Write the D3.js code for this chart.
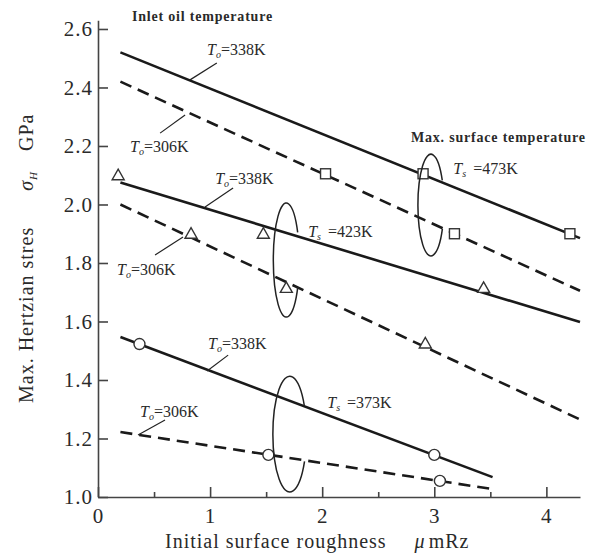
<!DOCTYPE html>
<html>
<head>
<meta charset="utf-8">
<script src="https://cdn.jsdelivr.net/npm/d3@7"></script>
<style>
  body { margin: 0; background: #fff; }
  text { font-family: "Liberation Serif", "DejaVu Serif", serif; fill: #2a2a2a; }
  .axis path, .axis line { stroke: #444; stroke-width: 1.6; }
  .axis text { font-size: 21px; letter-spacing: 1px; }
</style>
</head>
<body>
<div class="chart"></div>
<script>
var width = 600,
    height = 555

// x ticks and y ticks
var xMajor = [0, 1, 2, 3, 4]
var xMinor = [0.5, 1.5, 2.5, 3.5]
var yTicks = [1.0, 1.2, 1.4, 1.6, 1.8, 2.0, 2.2, 2.4, 2.6]

// fitted lines, endpoints [roughness, stress]
var line473_338 = [[0.2, 2.52], [4.3, 1.885]]
var line473_306 = [[0.2, 2.42], [4.3, 1.705]]
var line423_338 = [[0.2, 2.075], [4.3, 1.598]]
var line423_306 = [[0.2, 2.0], [4.3, 1.265]]
var line373_338 = [[0.2, 1.547], [3.52, 1.068]]
var line373_306 = [[0.2, 1.222], [3.52, 1.027]]

// measured points
var squares = [[2.03, 2.105], [2.9, 2.105], [3.18, 1.90], [4.21, 1.90]]
var triangles = [[0.18, 2.10], [0.83, 1.90], [1.475, 1.90], [1.68, 1.715], [2.92, 1.525], [3.44, 1.715]]
var circles = [[0.37, 1.523], [1.52, 1.144], [3.0, 1.144], [3.05, 1.055]]

// To labels: [x, y] text position, leader [x1, y1, x2, y2], value
var toLabels = [
  {pos: [0.973, 2.511], lead: [1.06, 2.484, 0.821, 2.426], val: "338K"},
  {pos: [0.286, 2.179], lead: [0.554, 2.244, 0.777, 2.306], val: "306K"},
  {pos: [1.045, 2.070], lead: [1.205, 2.056, 0.955, 1.991], val: "338K"},
  {pos: [0.170, 1.759], lead: [0.509, 1.827, 0.759, 1.889], val: "306K"},
  {pos: [0.982, 1.506], lead: [1.161, 1.485, 0.973, 1.431], val: "338K"},
  {pos: [0.375, 1.274], lead: [0.598, 1.263, 0.357, 1.212], val: "306K"}
]

// Ts groups: loop centre/radii in data units, label position
var tsGroups = [
  {cx: 2.97, cy: 1.998, rx: 0.116, ry: 0.174, pos: [3.17, 2.104], val: "473K"},
  {cx: 1.68, cy: 1.81, rx: 0.116, ry: 0.195, pos: [1.875, 1.889], val: "423K"},
  {cx: 1.71, cy: 1.215, rx: 0.15, ry: 0.198, pos: [2.045, 1.304], val: "373K"}
]

var svg = d3.select(".chart")
  .append("svg")
  .attr("width", width)
  .attr("height", height)

var x = d3.scaleLinear()
  .domain([0, 4.3])
  .range([98, 580])

var y = d3.scaleLinear()
  .domain([1, 2.63])
  .range([497, 20.2])

// axes
svg.append("g")
  .attr("class", "axis")
  .attr("transform", "translate(" + x(0) + ",0)")
  .call(d3.axisLeft(y).tickValues(yTicks).tickFormat(d3.format(".1f"))
    .tickSizeInner(-10).tickSizeOuter(0).tickPadding(5))

var xAxis = svg.append("g")
  .attr("class", "axis")
  .attr("transform", "translate(0," + y(1) + ")")
  .call(d3.axisBottom(x).tickValues(xMajor).tickFormat(d3.format("d"))
    .tickSizeInner(-10).tickSizeOuter(0).tickPadding(6))
xAxis.selectAll("text").attr("dy", "0.95em")

svg.append("g")
  .attr("class", "axis")
  .attr("transform", "translate(0," + y(1) + ")")
  .call(d3.axisBottom(x).tickValues(xMinor).tickFormat("")
    .tickSizeInner(-5).tickSizeOuter(0))
  .select(".domain").remove()

svg.selectAll(".axis .domain").attr("stroke", "#444")

// lines
var line = d3.line()
  .x(function(d) { return x(d[0]); })
  .y(function(d) { return y(d[1]); })

var solid = [line473_338, line423_338, line373_338]
var dashed = [line473_306, line423_306, line373_306]

svg.append("g").selectAll("path")
  .data(solid).enter().append("path")
  .attr("d", line)
  .attr("fill", "none").attr("stroke", "#1a1a1a").attr("stroke-width", 2.6)

svg.append("g").selectAll("path")
  .data(dashed).enter().append("path")
  .attr("d", line)
  .attr("fill", "none").attr("stroke", "#1a1a1a").attr("stroke-width", 2.6)
  .attr("stroke-dasharray", "12,7")

// markers
svg.append("g").selectAll("rect")
  .data(squares).enter().append("rect")
  .attr("x", function(d) { return x(d[0]) - 5; })
  .attr("y", function(d) { return y(d[1]) - 5; })
  .attr("width", 10).attr("height", 10)
  .attr("fill", "#fff").attr("stroke", "#333").attr("stroke-width", 1.4)

svg.append("g").selectAll("path")
  .data(triangles).enter().append("path")
  .attr("d", function(d) {
    var cx = x(d[0]), cy = y(d[1])
    return "M" + (cx - 6) + "," + (cy + 4.5) + "L" + (cx + 6) + "," + (cy + 4.5) + "L" + cx + "," + (cy - 6) + "Z"
  })
  .attr("fill", "#fff").attr("stroke", "#333").attr("stroke-width", 1.4)

svg.append("g").selectAll("circle")
  .data(circles).enter().append("circle")
  .attr("cx", function(d) { return x(d[0]); })
  .attr("cy", function(d) { return y(d[1]); })
  .attr("r", 5.5)
  .attr("fill", "#fff").attr("stroke", "#333").attr("stroke-width", 1.4)

// loops around the groups, open on the right side
function loopPath(g) {
  var cx = x(g.cx), cy = y(g.cy)
  var rx = x(g.rx) - x(0), ry = y(0) - y(g.ry)
  var a0 = 28 * Math.PI / 180, a1 = -29 * Math.PI / 180
  return "M" + (cx + rx * Math.cos(a0)) + "," + (cy + ry * Math.sin(a0)) +
    "A" + rx + "," + ry + " 0 1 1 " + (cx + rx * Math.cos(a1)) + "," + (cy + ry * Math.sin(a1))
}

svg.append("g").selectAll("path")
  .data(tsGroups).enter().append("path")
  .attr("d", loopPath)
  .attr("fill", "none").attr("stroke", "#222").attr("stroke-width", 1.5)

// leaders
svg.append("g").selectAll("line")
  .data(toLabels).enter().append("line")
  .attr("x1", function(d) { return x(d.lead[0]); })
  .attr("y1", function(d) { return y(d.lead[1]); })
  .attr("x2", function(d) { return x(d.lead[2]); })
  .attr("y2", function(d) { return y(d.lead[3]); })
  .attr("stroke", "#222").attr("stroke-width", 1.2)

// To labels
var toText = svg.append("g").selectAll("text")
  .data(toLabels).enter().append("text")
  .attr("x", function(d) { return x(d.pos[0]); })
  .attr("y", function(d) { return y(d.pos[1]); })
  .attr("font-size", 16)
toText.append("tspan").attr("font-style", "italic").text("T")
toText.append("tspan").attr("font-style", "italic").attr("font-size", 10).attr("dy", 3).text("o")
toText.append("tspan").attr("dy", -3).text(function(d) { return "=" + d.val; })

// Ts labels
var tsText = svg.append("g").selectAll("text")
  .data(tsGroups).enter().append("text")
  .attr("x", function(d) { return x(d.pos[0]); })
  .attr("y", function(d) { return y(d.pos[1]); })
  .attr("font-size", 16)
tsText.append("tspan").attr("font-style", "italic").text("T")
tsText.append("tspan").attr("font-style", "italic").attr("font-size", 10).attr("dy", 3).text("s")
tsText.append("tspan").attr("dy", -3).attr("dx", 3).text(function(d) { return " =" + d.val; })

// headings
svg.append("text")
  .attr("x", 132).attr("y", 21)
  .attr("font-size", 14).attr("font-weight", "bold").attr("letter-spacing", 0.8)
  .text("Inlet oil temperature")

svg.append("text")
  .attr("x", 411).attr("y", 142)
  .attr("font-size", 14).attr("font-weight", "bold").attr("letter-spacing", 0.8)
  .text("Max. surface temperature")

// axis titles
var xt = svg.append("text")
  .attr("x", 165).attr("y", 548)
  .attr("font-size", 20).attr("letter-spacing", 1)
xt.append("tspan").text("Initial surface roughness")
xt.append("tspan").attr("dx", 28).attr("font-style", "italic").text("\u03bc")
xt.append("tspan").attr("dx", 3).text("mRz")

var yt = svg.append("text")
  .attr("transform", "translate(33,403) rotate(-90)")
  .attr("font-size", 20).attr("letter-spacing", 1)
yt.append("tspan").text("Max. Hertzian stres")
yt.append("tspan").attr("dx", 36).attr("font-style", "italic").text("\u03c3")
yt.append("tspan").attr("font-style", "italic").attr("font-size", 11).attr("dy", 4).text("H")
yt.append("tspan").attr("dx", 20).attr("dy", -4).text("GPa")
</script>
</body>
</html>
